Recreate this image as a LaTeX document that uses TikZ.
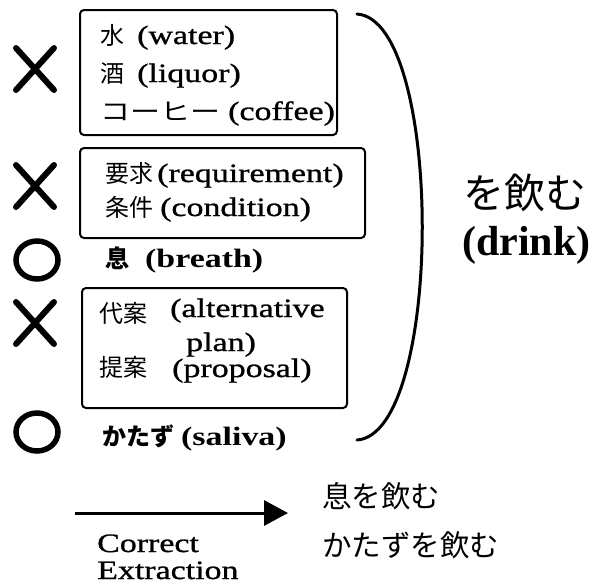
\documentclass[tikz,border=0pt]{standalone}
\usepackage{fontspec}
\setmainfont{Liberation Serif}
\newfontfamily\enw{Liberation Serif}[FakeStretch=1.28,FakeBold=1.0]
\newfontfamily\enwb{Liberation Serif}[FakeStretch=1.28]
\newfontfamily\cjk{Noto Sans CJK JP}
\newfontfamily\cjkw{Noto Sans CJK JP}[FakeStretch=1.25]
\usetikzlibrary{arrows.meta}
\tikzset{
  boxf/.style={draw, line width=2pt, rounded corners=4pt},
  xmark/.style={line width=6pt, line cap=round},
  omark/.style={line width=5.5pt},
  en/.style={font=\enw\fontsize{26.5}{30}\selectfont, inner sep=0pt, anchor=base west},
  enb/.style={font=\enwb\bfseries\fontsize{26.5}{30}\selectfont, inner sep=0pt, anchor=base west},
  jp/.style={font=\cjk\fontsize{24}{28}\selectfont, inner sep=0pt, anchor=base west},
  jpw/.style={font=\cjkw\fontsize{24}{28}\selectfont, inner sep=0pt, anchor=base west},
  jpb/.style={font=\cjk\bfseries\fontsize{24}{28}\selectfont, inner sep=0pt, anchor=base west},
  jpbig/.style={font=\cjk\fontsize{41}{46}\selectfont, inner sep=0pt, anchor=base west},
  drinkf/.style={font=\bfseries\fontsize{42}{48}\selectfont, inner sep=0pt, anchor=base west},
  jpres/.style={font=\cjk\fontsize{29.5}{34}\selectfont, inner sep=0pt, anchor=base west},
  captxt/.style={font=\enw\fontsize{26.5}{30}\selectfont, inner sep=0pt, anchor=base west},
}
\begin{document}
\begin{tikzpicture}[x=1pt,y=-1pt]
\useasboundingbox (0,0) rectangle (596,587);
% boxes
\draw[boxf] (80,10) rectangle (337,135);
\draw[boxf] (80,148) rectangle (365,238);
\draw[boxf] (82,288) rectangle (347,408);
% marks
\foreach \yy/\nm in {69/xa,186/xb,323/xc}{
  \coordinate (\nm) at (35,\yy);
  \draw[xmark] ([shift={(-19,-21)}]\nm) -- ([shift={(19,21)}]\nm);
  \draw[xmark] ([shift={(-19,21)}]\nm) -- ([shift={(19,-21)}]\nm);
}
\coordinate (oa) at (37,260);
\coordinate (ob) at (37,432);
\draw[omark] (oa) ellipse [x radius=21, y radius=19];
\draw[omark] (ob) ellipse [x radius=21, y radius=19];
% box 1
\node[jp] (j1) at (100,44) {水};
\node[en] (e1) at (137,44) {(water)};
\node[jp] (j2) at (100,82) {酒};
\node[en] (e2) at (137,82) {(liquor)};
\node[jpw] (j3) at (100,120) {コーヒー};
\node[en] (e3) at (228,120) {(coffee)};
% box 2
\node[jp] (j4) at (105,182) {要求};
\node[en] (e4) at (157,182) {(requirement)};
\node[jp] (j5) at (105,216) {条件};
\node[en] (e5) at (160,216) {(condition)};
% breath
\node[jpb] (j6) at (105,267) {息};
\node[enb] (e6) at (145,267) {(breath)};
% box 3
\node[jp] (j7) at (99,322) {代案};
\node[en] (e7) at (170,317) {(alternative};
\node[en] (e7b) at (186,351) {plan)};
\node[jp] (j8) at (99,376) {提案};
\node[en] (e8) at (172,377) {(proposal)};
% saliva
\node[jpb] (j9) at (102,445) {かたず};
\node[enb] (e9) at (181,445) {(saliva)};
% brace
\coordinate (bt) at (357,14);
\coordinate (bb) at (357,440);
\draw[line width=3pt, line cap=round] (bt) .. controls (444,20) and (444,434) .. (bb);
% drink
\node[jpbig] (nomu) at (463,208) {を飲む};
\node[drinkf] (drink) at (462,255) {(drink)};
% bottom
\coordinate (as) at (75,513);
\coordinate (ae) at (288,513);
\draw[line width=3pt, -{Triangle[length=24pt,width=25pt]}] (as) -- (ae);
\node[jpres] (r1) at (322,507) {息を飲む};
\node[jpres] (r2) at (322,556) {かたずを飲む};
\node[captxt] (c1) at (97,552) {Correct};
\node[captxt] (c2) at (97,579) {Extraction};
\end{tikzpicture}
\end{document}
